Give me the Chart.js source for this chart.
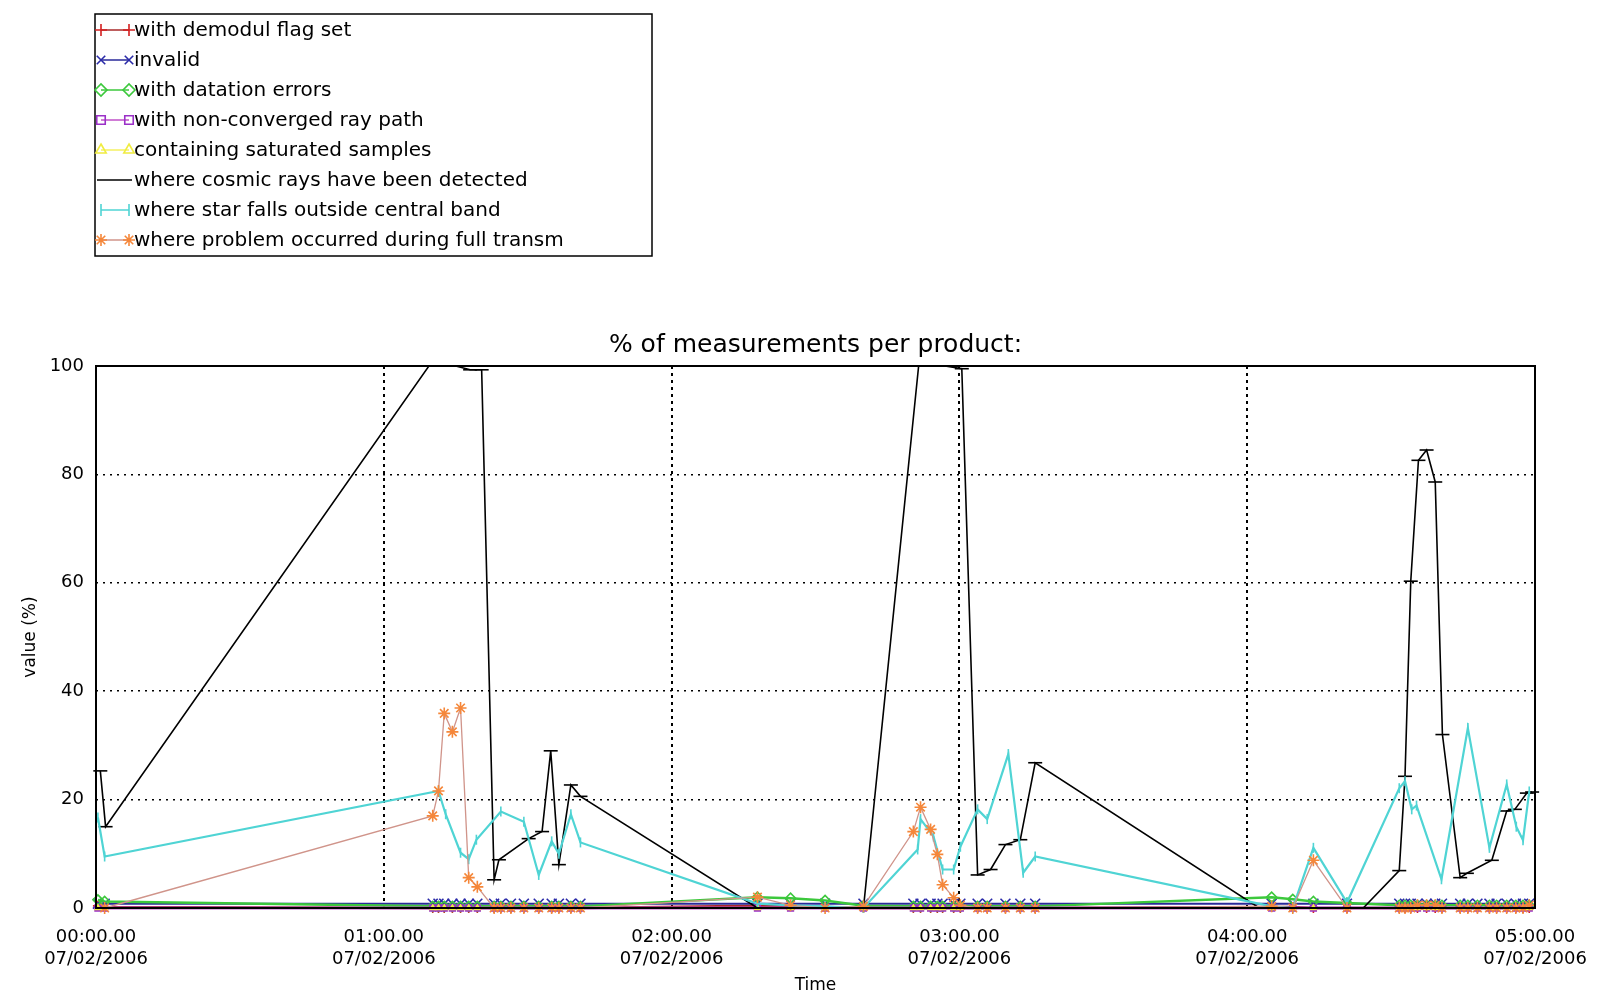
<!DOCTYPE html>
<html>
<head>
<meta charset="utf-8">
<script src="https://cdn.jsdelivr.net/npm/chart.js@4.4.0/dist/chart.umd.min.js"></script>
<style>
  html, body { margin: 0; padding: 0; background: #fff; }
</style>
</head>
<body>
<canvas id="chart" width="1607" height="996"></canvas>
<script>
// time axis is in minutes after 00:00 on 07/02/2006
const hourLabels = ['00:00.00', '01:00.00', '02:00.00', '03:00.00', '04:00.00', '05:00.00'];
const dateLabel = '07/02/2006';
const yTicks = [0, 20, 40, 60, 80, 100];

const seriesNames = [
  'with demodul flag set',
  'invalid',
  'with datation errors',
  'with non-converged ray path',
  'containing saturated samples',
  'where cosmic rays have been detected',
  'where star falls outside central band',
  'where problem occurred during full transm'
];

// product times shared by the small (near zero) series
const prodT = [0.4, 1.8, 70.2, 71.4, 72.6, 74.3, 76.0, 77.7, 79.5, 83.0, 84.4, 86.5, 89.2, 92.3, 95.0, 96.5, 99.0, 101.0,
  137.9, 144.8, 152.0, 160.0, 170.4, 171.9, 174.0, 175.4, 176.5, 178.8, 180.2, 183.8, 185.8, 189.6, 192.7, 195.8,
  245.1, 249.5, 253.8, 260.8, 271.7, 272.9, 274.1, 275.5, 277.4, 279.2, 280.6, 284.4, 286.0, 288.0, 290.5, 292.0,
  294.1, 296.0, 297.5, 298.8];

const demodulV = [0.4, 0.2, 0, 0, 0, 0, 0, 0, 0, 0, 0, 0, 0, 0, 0, 0, 0, 0,
  0.4, 0.4, 0.2, 0, 0, 0, 0, 0, 0, 0, 0, 0, 0, 0, 0, 0,
  0.2, 0.2, 0, 0, 0, 0, 0, 0, 0, 0, 0, 0, 0, 0, 0, 0,
  0, 0, 0, 0];
const invalidV = [0.8, 0.8, 0.8, 0.8, 0.8, 0.8, 0.8, 0.8, 0.8, 0.8, 0.8, 0.8, 0.8, 0.8, 0.8, 0.8, 0.8, 0.8,
  0.8, 0.8, 0.8, 0.8, 0.8, 0.8, 0.8, 0.8, 0.8, 0.8, 0.8, 0.8, 0.8, 0.8, 0.8, 0.8,
  0.8, 0.8, 0.8, 0.8, 0.8, 0.8, 0.8, 0.8, 0.8, 0.8, 0.8, 0.8, 0.8, 0.8, 0.8, 0.8,
  0.8, 0.8, 0.8, 0.8];
const datationV = [1.5, 1.2, 0.3, 0.3, 0.3, 0.3, 0.3, 0.3, 0.3, 0.3, 0.3, 0.3, 0.3, 0.3, 0.3, 0.3, 0.3, 0.3,
  2.0, 1.8, 1.4, 0.4, 0.3, 0.3, 0.3, 0.3, 0.3, 0.3, 0.3, 0.3, 0.3, 0.3, 0.3, 0.3,
  2.0, 1.6, 1.2, 0.9, 0.5, 0.5, 0.5, 0.5, 0.5, 0.5, 0.5, 0.5, 0.5, 0.5, 0.5, 0.5,
  0.5, 0.5, 0.5, 0.5];
const nonconvV = [0, 0, 0, 0, 0, 0, 0, 0, 0, 0, 0, 0, 0, 0, 0, 0, 0, 0,
  0, 0, 0, 0, 0, 0, 0, 0, 0, 0, 0, 0, 0, 0, 0, 0,
  0, 0, 0, 0, 0, 0, 0, 0, 0, 0, 0, 0, 0, 0, 0, 0,
  0, 0, 0, 0];
const saturV = [0, 0, 0, 0, 0, 0, 0, 0, 0, 0, 0, 0, 0, 0, 0, 0, 0, 0,
  0, 0, 0, 0, 0, 0, 0, 0, 0, 0, 0, 0, 0, 0, 0, 0,
  0, 0, 0, 0, 0, 0, 0, 0, 0, 0, 0, 0, 0, 0, 0, 0,
  0, 0, 0, 0];

const cosmicT = [0.9, 2.0, 69.4, 72.0, 75.0, 78.0, 80.4, 83.0, 84.0, 90.2, 93.0, 94.8, 96.5, 99.0, 101.0,
  137.9, 144.8, 152.0, 160.0, 171.5, 174.0, 177.0, 180.5, 183.8, 186.5, 189.6, 192.7, 195.8,
  242.5, 249.5, 253.8, 264.2, 271.7, 272.9, 274.1, 275.7, 277.4, 279.2, 280.7, 284.4, 285.8,
  291.0, 294.1, 295.8, 298.3, 299.4];
const cosmicV = [25.3, 15.0, 100, 100, 100, 99.3, 99.3, 5.2, 8.9, 12.8, 14.1, 29.0, 8.0, 22.7, 20.6,
  0, 0, 0, 0, 100, 100, 100, 99.5, 6.1, 7.1, 11.7, 12.6, 26.8,
  0, 0, 0, 0, 6.9, 24.3, 60.3, 82.6, 84.5, 78.6, 32.0, 5.6, 6.4,
  8.8, 17.9, 18.2, 21.2, 21.4];

const bandT = [0.4, 1.8, 71.4, 72.9, 76.0, 77.7, 79.3, 84.4, 89.2, 92.3, 95.0, 96.5, 99.0, 101.0,
  137.9, 144.8, 152.0, 160.0, 171.3, 171.9, 174.6, 176.5, 178.8, 180.2, 183.8, 185.8, 190.2, 193.3, 195.8,
  245.1, 249.5, 253.8, 260.8, 271.7, 272.9, 274.3, 275.3, 280.5, 286.0, 290.5, 294.1, 296.1, 297.5, 298.8];
const bandV = [16.7, 9.5, 21.6, 17.3, 10.2, 9.0, 12.6, 17.8, 15.9, 6.1, 12.3, 10.0, 17.3, 12.1,
  0.8, 0.5, 0.3, 0, 10.8, 16.4, 13.2, 7.1, 7.1, 11.3, 18.2, 16.4, 28.4, 6.5, 9.5,
  0.3, 0, 11.1, 1.0, 22.1, 23.4, 18.2, 18.9, 5.3, 33.2, 11.1, 22.8, 15.0, 12.5, 21.5];

const transmT = [1.8, 70.2, 71.4, 72.6, 74.3, 76.0, 77.7, 79.5, 83.0, 84.4, 86.5, 89.2, 92.3, 95.0, 96.5, 99.0, 101.0,
  137.9, 144.8, 152.0, 160.0, 170.4, 171.9, 174.0, 175.4, 176.5, 178.8, 180.2, 183.8, 185.8, 189.6, 192.7, 195.8,
  245.1, 249.5, 253.8, 260.8, 271.7, 272.9, 274.1, 275.5, 277.4, 279.2, 280.6, 284.4, 286.0, 288.0, 290.5, 292.0,
  294.1, 296.0, 297.5, 298.8];
const transmV = [0, 17.0, 21.6, 35.9, 32.5, 36.9, 5.6, 3.9, 0, 0, 0, 0, 0, 0, 0, 0, 0,
  2.0, 0.5, 0, 0.3, 14.1, 18.6, 14.5, 9.9, 4.3, 1.9, 0.5, 0, 0, 0, 0, 0,
  0.3, 0, 8.8, 0, 0, 0, 0, 0.5, 0.5, 0.5, 0, 0, 0, 0, 0, 0,
  0, 0, 0, 0.5];

const pts = (ts, vs) => ts.map((t, i) => ({ x: t, y: vs[i] }));

// look of each series: line colour, marker colour, marker
const styles = [
  { line: '#a82828', mark: '#d42020', shape: 'cross', r: 5, w: 2.5 },
  { line: '#2a2a9a', mark: '#2a2aa8', shape: 'crossRot', r: 7, w: 2 },
  { line: '#3cc83c', mark: '#3cc83c', shape: 'rectRot', r: 5, w: 2.5 },
  { line: '#c050c8', mark: '#9b30c8', shape: 'rect', r: 4, w: 3 },
  { line: '#f4f060', mark: '#f0ec40', shape: 'triangle', r: 3, w: 1.5 },
  { line: '#000000', mark: '#000000', shape: 'line', r: 7, w: 1.6, noLegendMark: true },
  { line: '#4fd4d4', mark: '#4fd4d4', shape: 'line', r: 5, w: 2.2, rot: 90 },
  { line: '#d0948a', mark: '#f5873a', shape: 'star', r: 6, w: 1.3 }
];

const seriesData = [
  pts(prodT, demodulV), pts(prodT, invalidV), pts(prodT, datationV), pts(prodT, nonconvV),
  pts(prodT, saturV), pts(cosmicT, cosmicV), pts(bandT, bandV), pts(transmT, transmV)
];

const datasets = seriesData.map((d, i) => ({
  label: seriesNames[i],
  data: d,
  order: seriesData.length - i,   // later series drawn on top, like the original
  borderColor: styles[i].line,
  borderWidth: styles[i].w,
  pointStyle: styles[i].shape,
  pointRadius: styles[i].r,
  pointRotation: styles[i].rot || 0,
  pointBorderColor: styles[i].mark,
  pointBackgroundColor: 'rgba(0,0,0,0)',
  pointBorderWidth: 1.6,
  tension: 0,
  clip: 10,
  noLegendMark: !!styles[i].noLegendMark
}));

// framed legend box top left, each entry: marker, line, marker, text
const legendBox = {
  id: 'legendBox',
  afterDraw(chart) {
    const ctx = chart.ctx;
    const a = chart.chartArea;
    ctx.save();
    ctx.strokeStyle = '#000';
    ctx.lineWidth = 2;
    ctx.strokeRect(a.left, a.top, a.right - a.left, a.bottom - a.top);

    ctx.lineWidth = 1.5;
    ctx.strokeRect(95, 14, 557, 242);
    ctx.font = '20px "DejaVu Sans"';
    ctx.textBaseline = 'middle';
    ctx.textAlign = 'left';
    chart.data.datasets.forEach((ds, i) => {
      const y = 30 + i * 30;
      ctx.strokeStyle = ds.borderColor;
      ctx.lineWidth = 1.5;
      ctx.beginPath();
      ctx.moveTo(ds.noLegendMark ? 97 : 101, y);
      ctx.lineTo(ds.noLegendMark ? 132 : 129, y);
      ctx.stroke();
      if (!ds.noLegendMark && Chart.helpers && Chart.helpers.drawPoint) {
        ctx.strokeStyle = ds.pointBorderColor;
        ctx.fillStyle = 'rgba(0,0,0,0)';
        ctx.lineWidth = 1.6;
        const opts = { pointStyle: ds.pointStyle, rotation: ds.pointRotation, radius: 6, borderWidth: 1.6 };
        Chart.helpers.drawPoint(ctx, opts, 101, y);
        Chart.helpers.drawPoint(ctx, opts, 129, y);
      }
      ctx.fillStyle = '#000';
      ctx.fillText(ds.label, 134, y + 1);
    });
    ctx.restore();
  }
};

Chart.defaults.font.family = '"DejaVu Sans", sans-serif';
Chart.defaults.color = '#000';

new Chart(document.getElementById('chart'), {
  type: 'line',
  data: { datasets: datasets },
  plugins: [legendBox],
  options: {
    responsive: false,
    animation: false,
    devicePixelRatio: 1,
    layout: { padding: { top: 330, right: 72, bottom: 0, left: 0 } },
    plugins: {
      legend: { display: false },
      tooltip: { enabled: false },
      title: {
        display: true,
        fullSize: false,
        text: '% of measurements per product:',
        font: { size: 25, weight: 'normal' },
        color: '#000',
        padding: { top: 0, bottom: 6 }
      }
    },
    scales: {
      x: {
        type: 'linear',
        min: 0,
        max: 300,
        afterFit(scale) { scale.height = 88; },
        afterBuildTicks(scale) { scale.ticks = hourLabels.map((l, i) => ({ value: i * 60 })); },
        ticks: {
          autoSkip: false,
          maxRotation: 0,
          padding: 19,
          font: { size: 18 },
          color: '#000',
          callback: (v, i) => [hourLabels[i], dateLabel]
        },
        grid: {
          drawTicks: false,
          lineWidth: 2,
          color: c => (c.tick && (c.tick.value === 0 || c.tick.value === 300)) ? 'rgba(0,0,0,0)' : '#000'
        },
        border: { display: false, dash: [3, 4] },
        title: { display: true, text: 'Time', font: { size: 17 }, color: '#000', padding: { top: 0, bottom: 0 } }
      },
      y: {
        min: 0,
        max: 100,
        afterFit(scale) { scale.width = 96; },
        afterBuildTicks(scale) { scale.ticks = yTicks.map(v => ({ value: v })); },
        ticks: { padding: 12, font: { size: 18 }, color: '#000' },
        grid: {
          drawTicks: false,
          lineWidth: 1.5,
          color: c => (c.tick && (c.tick.value === 0 || c.tick.value === 100)) ? 'rgba(0,0,0,0)' : '#000'
        },
        border: { display: false, dash: [2, 5] },
        title: { display: true, text: 'value (%)', font: { size: 17 }, color: '#000', padding: { top: 20, bottom: 0 } }
      }
    }
  }
});
</script>
</body>
</html>
